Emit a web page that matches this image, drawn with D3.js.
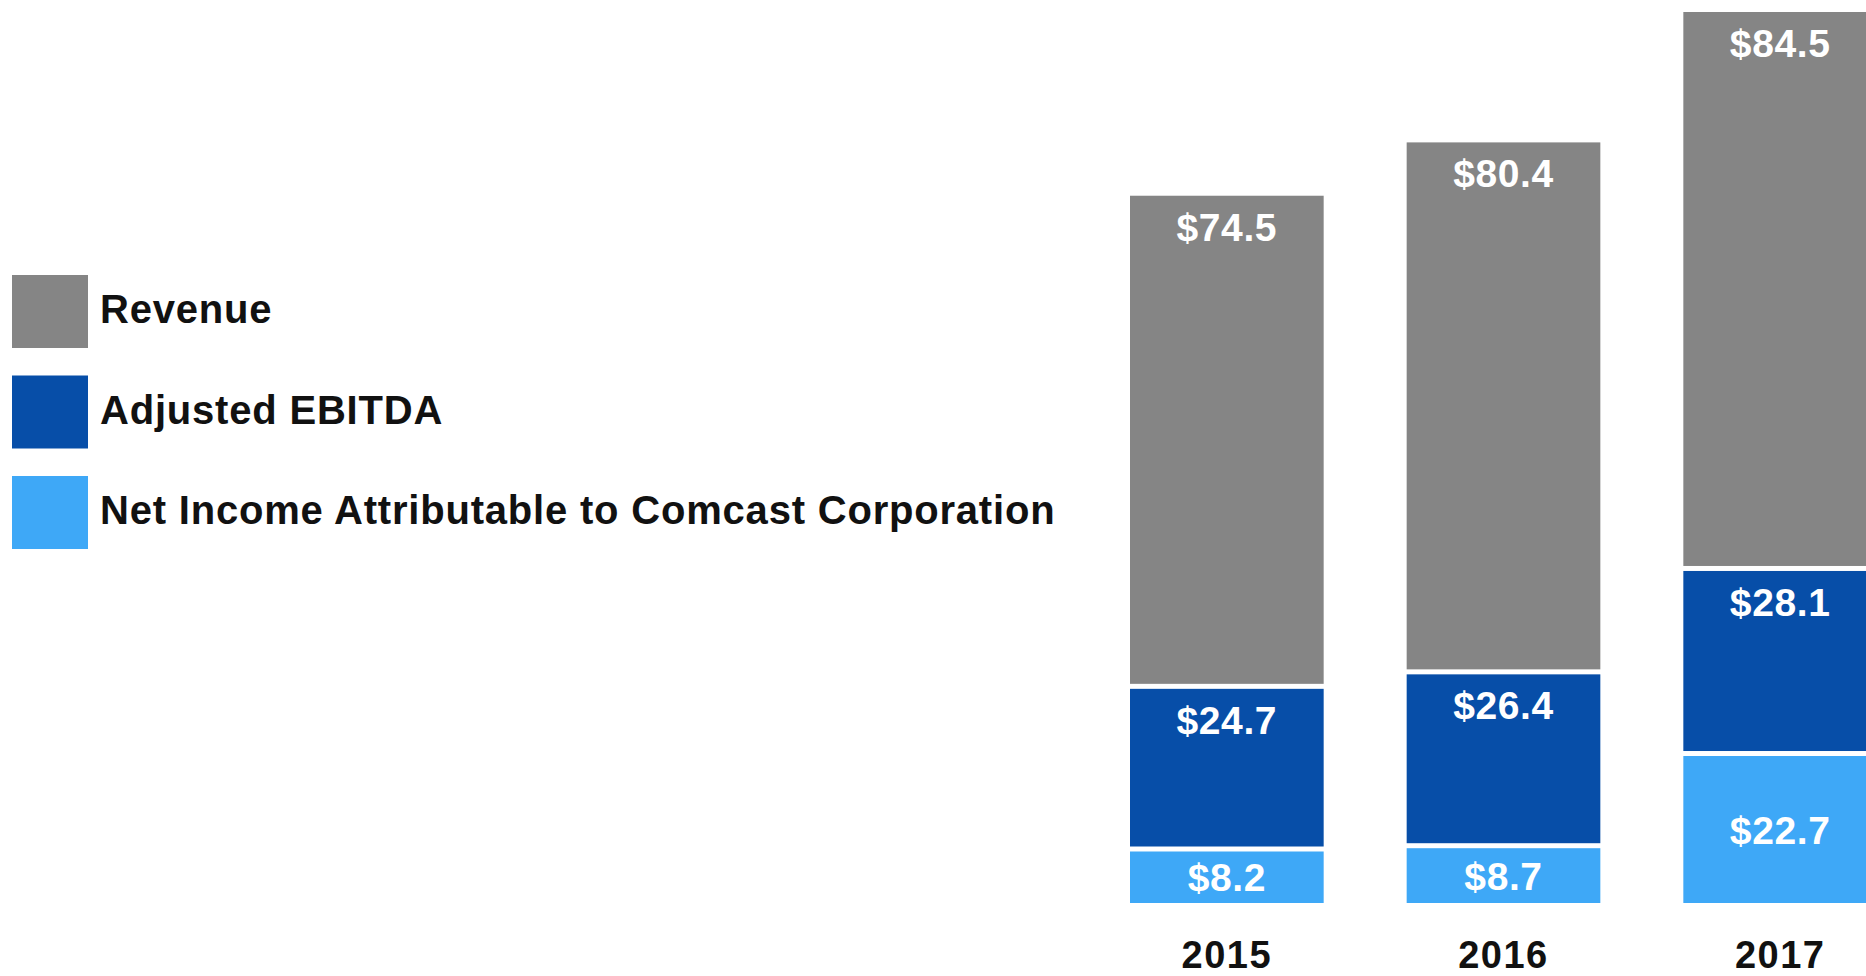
<!DOCTYPE html>
<html>
<head>
<meta charset="utf-8">
<script src="https://cdn.jsdelivr.net/npm/d3@7"></script>
<style>
  html, body { margin: 0; padding: 0; background: #ffffff; }
  svg { display: block; font-family: "Liberation Sans", Arial, Helvetica, sans-serif; }
</style>
</head>
<body>
<svg id="chart" width="1866" height="976"></svg>
<script>
// ---- data ----
const years = ["2015", "2016", "2017"];
const netIncome = [8.2, 8.7, 22.7];
const adjustedEbitda = [24.7, 26.4, 28.1];
const revenue = [74.5, 80.4, 84.5];
const seriesNames = ["Net Income Attributable to Comcast Corporation", "Adjusted EBITDA", "Revenue"];
const legendOrder = ["Revenue", "Adjusted EBITDA", "Net Income Attributable to Comcast Corporation"];
const seriesColors = {
  "Revenue": "#858585",
  "Adjusted EBITDA": "#074ea8",
  "Net Income Attributable to Comcast Corporation": "#3ea8f7"
};

// ---- build rows ----
const rows = years.map((y, i) => ({
  year: y,
  "Net Income Attributable to Comcast Corporation": netIncome[i],
  "Adjusted EBITDA": adjustedEbitda[i],
  "Revenue": revenue[i]
}));
const stack = d3.stack().keys(seriesNames)(rows);
const totals = rows.map(r => seriesNames.reduce((s, k) => s + r[k], 0));

const svg = d3.select("#chart");

const x = d3.scaleBand().domain(years).range([1130, 1877]).paddingInner(0.3).paddingOuter(0);
const y = d3.scaleLinear().domain([0, d3.max(totals)]).range([903, 12]);

const gap = 2.5;
const lastIdx = seriesNames.length - 1;

const layers = svg.append("g").selectAll("g.layer")
  .data(stack).join("g").attr("class", "layer")
  .attr("fill", d => seriesColors[d.key]);

layers.each(function(layer, li) {
  const g = d3.select(this);
  const segs = layer.map((d, i) => {
    const top = y(d[1]) + (li === lastIdx ? 0 : gap);
    const bottom = y(d[0]) - (li === 0 ? 0 : gap);
    return { year: years[i], top, bottom, value: d[1] - d[0] };
  });
  g.selectAll("rect").data(segs).join("rect")
    .attr("x", d => x(d.year))
    .attr("width", x.bandwidth())
    .attr("y", d => d.top)
    .attr("height", d => d.bottom - d.top);

  g.selectAll("text").data(segs).join("text")
    .attr("x", d => x(d.year) + x.bandwidth() / 2)
    .attr("y", d => li === 0 ? (d.top + d.bottom) / 2 + 14 : d.top + 45)
    .attr("text-anchor", "middle")
    .attr("fill", "#ffffff")
    .attr("font-weight", "bold")
    .attr("font-size", 39)
    .attr("letter-spacing", 0.6)
    .text(d => "$" + d3.format(".1f")(d.value));
});

// year labels
svg.append("g").selectAll("text").data(years).join("text")
  .attr("x", d => x(d) + x.bandwidth() / 2)
  .attr("y", 968)
  .attr("text-anchor", "middle")
  .attr("fill", "#111111")
  .attr("font-weight", "bold")
  .attr("font-size", 38)
  .attr("letter-spacing", 1.5)
  .text(d => d);

// legend
const legend = svg.append("g").selectAll("g").data(legendOrder).join("g")
  .attr("transform", (d, i) => `translate(12, ${275 + i * 100.5})`);
legend.append("rect")
  .attr("width", 76).attr("height", 73)
  .attr("fill", d => seriesColors[d]);
legend.append("text")
  .attr("x", 88).attr("y", 48)
  .attr("fill", "#111111")
  .attr("font-weight", "bold")
  .attr("font-size", 40)
  .attr("letter-spacing", 0.8)
  .text(d => d);
</script>
</body>
</html>
